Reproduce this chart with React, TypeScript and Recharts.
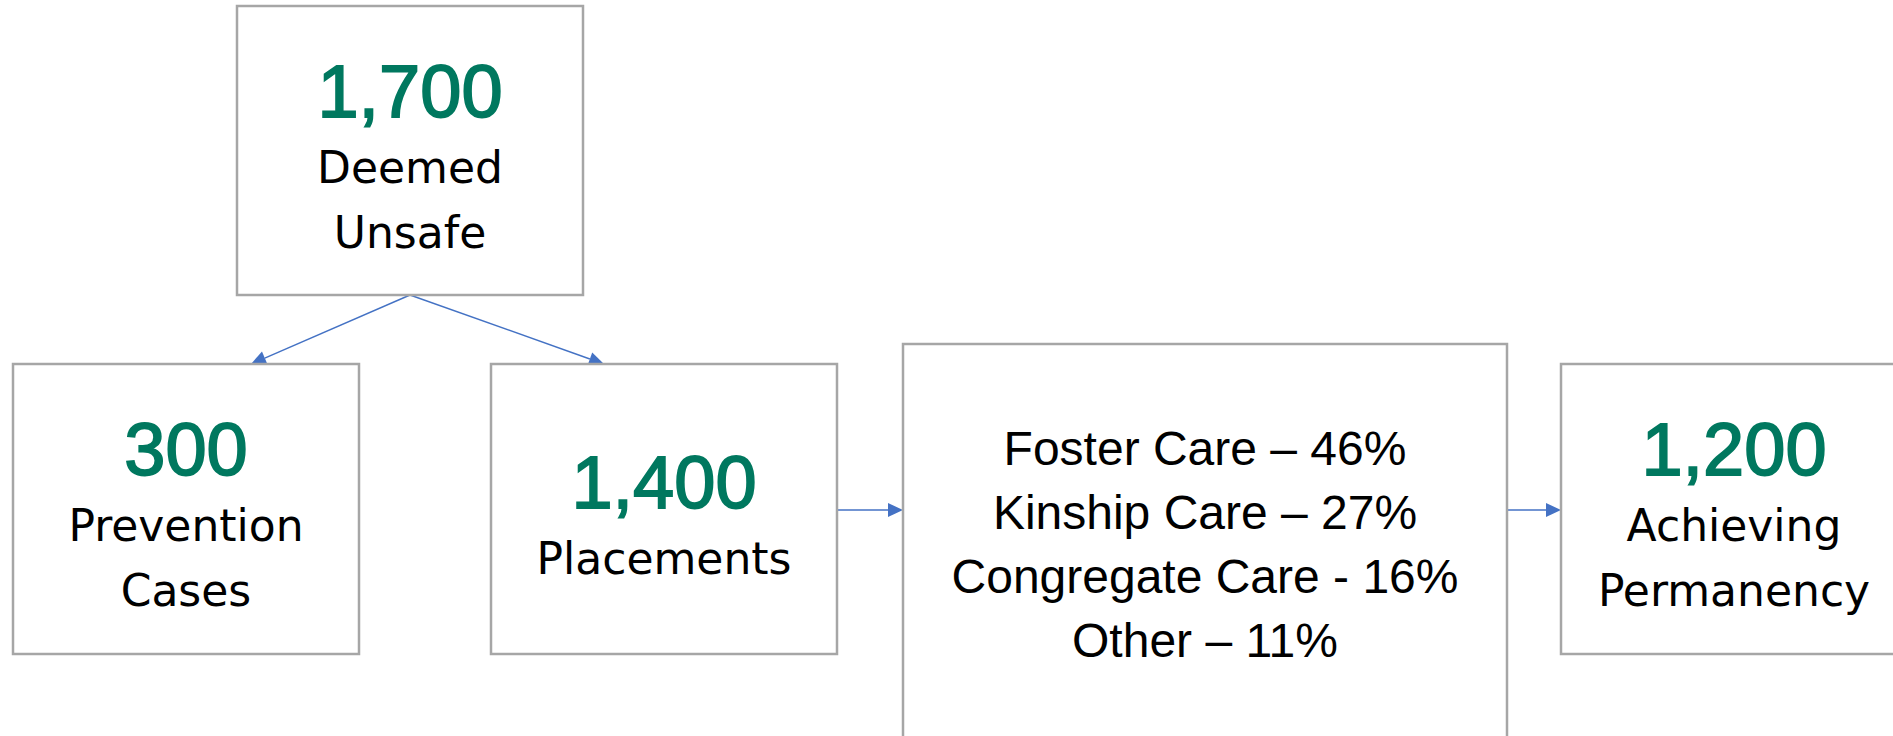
import React from 'react';
import { ScatterChart, Scatter, XAxis, YAxis, ReferenceLine } from 'recharts';

const W = 1893;
const H = 736;

// flow values
const STAGE_COUNTS = [1700, 300, 1400, 1200];
const STAGE_LABELS = [['Deemed', 'Unsafe'], ['Prevention', 'Cases'], ['Placements'], ['Achieving', 'Permanency']];
const PLACEMENT_TYPES = ['Foster Care', 'Kinship Care', 'Congregate Care', 'Other'];
const PLACEMENT_SHARES = [46, 27, 16, 11];
const PLACEMENT_DASHES = ['–', '–', '-', '–'];

// layout (chart units == pixels)
const STAGE_BOXES = [
  { cx: 410, cy: 150.5, w: 346, h: 289 },
  { cx: 186, cy: 509, w: 346, h: 290 },
  { cx: 664, cy: 509, w: 346, h: 290 },
  { cx: 1734, cy: 509, w: 346, h: 290 },
];
const TYPES_BOX = { cx: 1205, cy: 559, w: 604, h: 430 };
const FLOWS = [
  [{ x: 410, y: 295 }, { x: 251, y: 364 }],
  [{ x: 410, y: 295 }, { x: 604, y: 364 }],
  [{ x: 837, y: 510 }, { x: 903, y: 510 }],
  [{ x: 1507, y: 510 }, { x: 1561, y: 510 }],
];

const GREEN = '#00785f';
const BORDER = '#a6a6a6';
const ARROW = '#4472c4';

const stageData = STAGE_BOXES.map((b, i) => ({
  x: b.cx,
  y: b.cy,
  w: b.w,
  h: b.h,
  count: STAGE_COUNTS[i],
  lines: STAGE_LABELS[i],
}));

const typesData = [
  {
    x: TYPES_BOX.cx,
    y: TYPES_BOX.cy,
    w: TYPES_BOX.w,
    h: TYPES_BOX.h,
    lines: PLACEMENT_TYPES.map((t, i) => `${t} ${PLACEMENT_DASHES[i]} ${PLACEMENT_SHARES[i]}%`),
  },
];

const StageNode = (props: any) => {
  const { cx, cy, payload } = props;
  const n = payload.lines.length + 1;
  const first = cy + 31 - ((n - 1) * 65) / 2;
  return (
    <g>
      <rect x={cx - payload.w / 2} y={cy - payload.h / 2} width={payload.w} height={payload.h} fill="#fff" stroke={BORDER} strokeWidth={2.5} />
      {/* regular face thickened a little to look like a demi weight */}
      <text
        x={cx}
        y={first}
        textAnchor="middle"
        fill={GREEN}
        stroke={GREEN}
        strokeWidth={1.8}
        fontFamily="'Liberation Sans', Arial, sans-serif"
        fontSize={74}
      >
        {payload.count.toLocaleString('en-US')}
      </text>
      {payload.lines.map((l: string, i: number) => (
        <text key={l} x={cx} y={first + 66 + i * 65} textAnchor="middle" fill="#000" fontFamily="'DejaVu Sans', sans-serif" fontSize={44}>
          {l}
        </text>
      ))}
    </g>
  );
};

const TypesNode = (props: any) => {
  const { cx, cy, payload } = props;
  const top = cy - payload.h / 2;
  return (
    <g>
      <rect x={cx - payload.w / 2} y={top} width={payload.w} height={payload.h} fill="#fff" stroke={BORDER} strokeWidth={2.5} />
      {payload.lines.map((l: string, i: number) => (
        <text key={l} x={cx} y={top + 121 + i * 64} textAnchor="middle" fill="#000" fontFamily="'Liberation Sans', Arial, sans-serif" fontSize={48}>
          {l}
        </text>
      ))}
    </g>
  );
};

const Arrow = (props: any) => {
  const { x1, y1, x2, y2 } = props;
  const dx = x2 - x1;
  const dy = y2 - y1;
  const len = Math.sqrt(dx * dx + dy * dy) || 1;
  const ux = dx / len;
  const uy = dy / len;
  const head = 15;
  const half = 7;
  const bx = x2 - ux * head;
  const by = y2 - uy * head;
  return (
    <g>
      <line x1={x1} y1={y1} x2={bx} y2={by} stroke={ARROW} strokeWidth={1.4} />
      <polygon
        points={`${x2},${y2} ${bx - uy * half},${by + ux * half} ${bx + uy * half},${by - ux * half}`}
        fill={ARROW}
      />
    </g>
  );
};

export default function App() {
  return (
    <div style={{ position: 'absolute', left: 0, top: 0, width: W, height: H, overflow: 'hidden', background: '#fff' }}>
      <ScatterChart width={W} height={H} margin={{ top: 0, right: 0, bottom: 0, left: 0 }}>
        <XAxis type="number" dataKey="x" domain={[0, W]} hide />
        <YAxis type="number" dataKey="y" domain={[0, H]} reversed hide />
        <Scatter data={stageData} shape={<StageNode />} isAnimationActive={false} />
        <Scatter data={typesData} shape={<TypesNode />} isAnimationActive={false} />
        {FLOWS.map((seg, i) => (
          <ReferenceLine key={i} segment={seg} shape={(p: any) => <Arrow {...p} />} ifOverflow="visible" />
        ))}
      </ScatterChart>
    </div>
  );
}
